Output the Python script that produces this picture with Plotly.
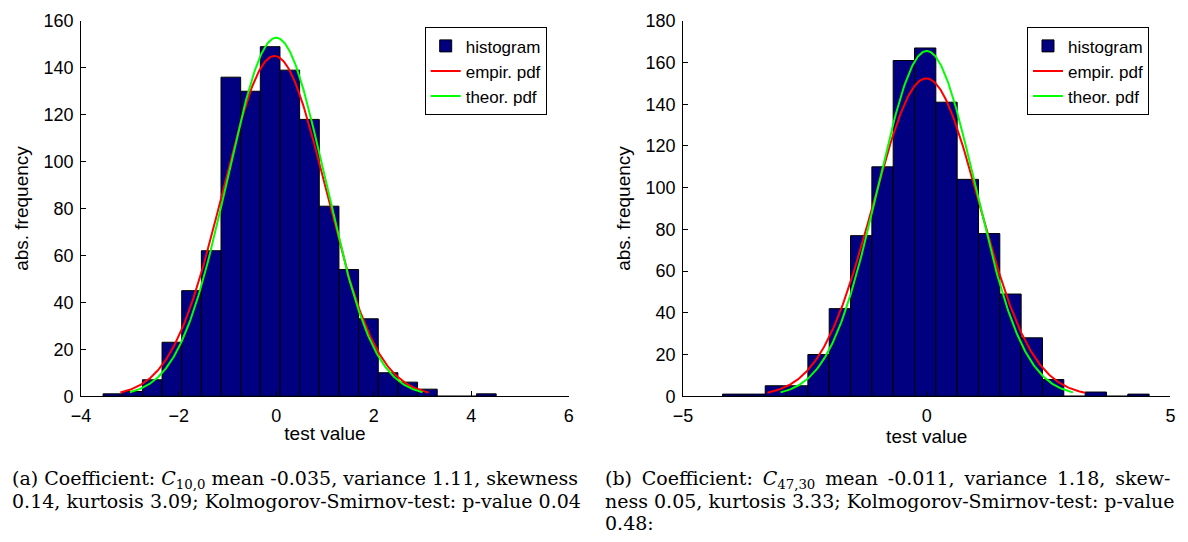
import numpy as np
import plotly.graph_objects as go

W, H = 1188, 542

# ---------------- data ----------------
# (a) coefficient C_{10,0}
a_lo, a_hi, a_nbins = -3.549, 4.51, 20
a_counts = [1, 2, 7, 23, 45, 62, 136, 130, 149, 139, 118, 81, 54, 33, 10, 6, 3, 0, 0, 1]
a_mean, a_var = -0.035, 1.11
a_scale = 383.0  # curve scaling (abs. frequency)

# (b) coefficient C_{47,30}
b_lo, b_hi, b_nbins = -4.19, 4.562, 20
b_counts = [1, 1, 5, 5, 20, 42, 77, 110, 161, 167, 141, 104, 78, 49, 28, 8, 0, 2, 0, 1]
b_mean, b_var = -0.011, 1.18
b_scale = 415.0

a_xticks = [-4, -2, 0, 2, 4, 6]
a_yticks = [0, 20, 40, 60, 80, 100, 120, 140, 160]
b_xticks = [-5, 0, 5]
b_yticks = [0, 20, 40, 60, 80, 100, 120, 140, 160, 180]

TS = "\u2009"  # thin space used to justify the first caption line of (b)
cap_a = ["(a) Coefficient: <i>C</i><sub>10,0</sub> mean -0.035, variance 1.11, skewness",
         "0.14, kurtosis 3.09; Kolmogorov-Smirnov-test: p-value 0.04"]
cap_b = [("(b) Coefficient: <i>C</i><sub>47,30</sub> mean -0.011, variance 1.18, skew-").replace(" ", " " + TS),
         "ness 0.05, kurtosis 3.33; Kolmogorov-Smirnov-test: p-value",
         "0.48:"]

NAVY = "rgb(0,0,128)"
RED = "rgb(255,0,0)"
GREEN = "rgb(0,255,0)"
FONT = "Liberation Sans, Arial, Helvetica, sans-serif"
SERIF = "DejaVu Serif, serif"


def npdf(x, m, s):
    return np.exp(-0.5 * ((x - m) / s) ** 2) / (s * np.sqrt(2 * np.pi))


fig = go.Figure()


def add_panel(lo, hi, nb, counts, mean, var, scale, xa, ya, leg):
    edges = np.linspace(lo, hi, nb + 1)
    centers = 0.5 * (edges[:-1] + edges[1:])
    width = edges[1] - edges[0]
    fig.add_trace(go.Bar(x=centers, y=counts, width=width, name="histogram",
                         marker=dict(color=NAVY, line=dict(color="black", width=1)),
                         xaxis=xa, yaxis=ya, legend=leg))
    sd = np.sqrt(var)
    xe = np.linspace(mean - 3 * sd, mean + 3 * sd, 300)
    fig.add_trace(go.Scatter(x=xe, y=scale * npdf(xe, mean, sd), mode="lines",
                             name="empir. pdf", line=dict(color=RED, width=2),
                             xaxis=xa, yaxis=ya, legend=leg))
    xt = np.linspace(-3, 3, 300)
    fig.add_trace(go.Scatter(x=xt, y=scale * npdf(xt, 0.0, 1.0), mode="lines",
                             name="theor. pdf", line=dict(color=GREEN, width=2),
                             xaxis=xa, yaxis=ya, legend=leg))


add_panel(a_lo, a_hi, a_nbins, a_counts, a_mean, a_var, a_scale, "x", "y", "legend")
add_panel(b_lo, b_hi, b_nbins, b_counts, b_mean, b_var, b_scale, "x2", "y2", "legend2")

ydom = [1 - 401 / H, 1 - 11.3 / H]

axis_common = dict(showline=True, linecolor="black", linewidth=1, ticks="inside",
                   ticklen=5, tickcolor="black", showgrid=False, zeroline=False,
                   tickfont=dict(family=FONT, size=18, color="black"),
                   title_font=dict(family=FONT, size=19, color="black"))

fig.update_layout(
    width=W, height=H, margin=dict(l=0, r=0, t=0, b=0),
    paper_bgcolor="white", plot_bgcolor="white",
    barmode="overlay",
    xaxis=dict(domain=[72 / W, 566 / W], range=[-4, 6], tickvals=a_xticks, ticklabelstandoff=3,
               title=dict(text="test value", standoff=1), anchor="y", **axis_common),
    yaxis=dict(domain=ydom, range=[0, 160], tickvals=a_yticks, ticklabelstandoff=3,
               title=dict(text="abs. frequency", standoff=9), anchor="x", **axis_common),
    xaxis2=dict(domain=[681.7 / W, 1175.3 / W], range=[-5, 5], tickvals=b_xticks, ticklabelstandoff=3,
                title=dict(text="test value", standoff=1), anchor="y2", **axis_common),
    yaxis2=dict(domain=ydom, range=[0, 180], tickvals=b_yticks, ticklabelstandoff=3,
                title=dict(text="abs. frequency", standoff=9), anchor="x2", **axis_common),
    legend=dict(x=420 / W, y=1 - 18 / H, xanchor="left", yanchor="top",
                bgcolor="white", bordercolor="black", borderwidth=1,
                font=dict(family=FONT, size=17, color="black"), tracegroupgap=0,
                itemwidth=30),
    legend2=dict(x=1030 / W, y=1 - 18 / H, xanchor="left", yanchor="top",
                 bgcolor="white", bordercolor="black", borderwidth=1,
                 font=dict(family=FONT, size=17, color="black"), tracegroupgap=0,
                 itemwidth=30),
    showlegend=True,
)

anns = []
cap_y = [487, 510, 533]
for i, t in enumerate(cap_a):
    anns.append(dict(text=t, x=0, y=1 - cap_y[i] / H, xref="paper", yref="paper",
                     xanchor="left", yanchor="middle", showarrow=False,
                     font=dict(family=SERIF, size=19, color="black")))
for i, t in enumerate(cap_b):
    anns.append(dict(text=t, x=601 / W, y=1 - cap_y[i] / H, xref="paper", yref="paper",
                     xanchor="left", yanchor="middle", showarrow=False,
                     font=dict(family=SERIF, size=19, color="black")))
fig.update_layout(annotations=anns)

fig.write_html("out.html")
